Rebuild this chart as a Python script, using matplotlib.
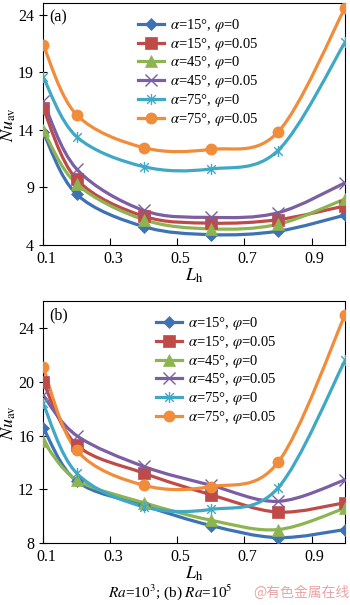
import matplotlib
matplotlib.use("Agg")
import matplotlib.pyplot as plt
from matplotlib.path import Path
from matplotlib.patches import PathPatch
from matplotlib.lines import Line2D
from matplotlib.transforms import ScaledTranslation
import numpy as np

plt.rcParams["font.family"] = ["Liberation Serif", "DejaVu Serif"]
plt.rcParams["mathtext.fontset"] = "stix"

lh = [0.1, 0.2, 0.4, 0.6, 0.8, 1.0]

labels = [r"$\alpha$=15°, $\varphi$=0", r"$\alpha$=15°, $\varphi$=0.05",
          r"$\alpha$=45°, $\varphi$=0", r"$\alpha$=45°, $\varphi$=0.05",
          r"$\alpha$=75°, $\varphi$=0", r"$\alpha$=75°, $\varphi$=0.05"]

# panel (a), Ra=10^3
nu_a_15_0 = [13.8, 8.4, 5.6, 4.9, 5.2, 6.6]
nu_a_15_05 = [15.9, 9.7, 6.5, 5.9, 6.2, 7.4]
nu_a_45_0 = [14.0, 9.3, 6.2, 5.4, 5.8, 8.0]
nu_a_45_05 = [16.5, 10.6, 7.0, 6.4, 6.8, 9.4]
nu_a_75_0 = [18.6, 13.4, 10.8, 10.6, 12.2, 21.6]
nu_a_75_05 = [21.4, 15.3, 12.45, 12.3, 13.8, 24.6]

# panel (b), Ra=10^5
nu_b_15_0 = [16.6, 12.6, 10.8, 9.3, 8.4, 9.0]
nu_b_15_05 = [20.0, 15.3, 13.2, 11.6, 10.3, 11.0]
nu_b_45_0 = [15.6, 12.7, 11.0, 9.7, 9.0, 10.6]
nu_b_45_05 = [19.0, 16.0, 13.7, 12.3, 11.1, 12.7]
nu_b_75_0 = [18.4, 13.2, 10.7, 10.5, 12.1, 21.6]
nu_b_75_05 = [21.1, 14.9, 12.3, 12.2, 14.0, 25.0]

# x with a vertical bar, like the spreadsheet "star" marker
star = Path([(-1, -1), (1, 1), (-1, 1), (1, -1), (0, -1.3), (0, 1.3)],
            [Path.MOVETO, Path.LINETO, Path.MOVETO, Path.LINETO, Path.MOVETO, Path.LINETO])

colors = ["#3d72b4", "#be4b48", "#8db451", "#7b5ea3", "#3fa8c5", "#f08c3a"]
markers = ["D", "s", "^", "x", star, "o"]
msizes = [6, 8, 8, 8, 8, 8]
mews = [0.5, 0.5, 0.5, 1.0, 1.0, 0.5]


def smooth_path(x, y):
    # Catmull-Rom style bezier segments through the points
    pts = np.column_stack([x, y])
    verts = [pts[0]]
    codes = [Path.MOVETO]
    n = len(pts)
    for i in range(n - 1):
        p0 = pts[i - 1] if i > 0 else pts[i]
        p1 = pts[i]
        p2 = pts[i + 1]
        p3 = pts[i + 2] if i + 2 < n else pts[i + 1]
        c1 = p1 + (p2 - p0) / 6.0
        c2 = p2 - (p3 - p1) / 6.0
        verts += [c1, c2, p2]
        codes += [Path.CURVE4] * 3
    return Path(verts, codes)


def draw(ax, series, ylim, yticks, tag, legend_x):
    for k, ys in enumerate(series):
        ax.add_patch(PathPatch(smooth_path(lh, ys), facecolor="none",
                               edgecolor=colors[k], lw=2.3, zorder=2 + k * 0.1))
        ax.plot(lh, ys, linestyle="None", marker=markers[k], color=colors[k],
                markersize=msizes[k], markeredgewidth=mews[k], zorder=3 + k * 0.1)
    ax.set_xlim(0.1, 1.0)
    ax.set_ylim(*ylim)
    ax.set_xticks([0.1, 0.3, 0.5, 0.7, 0.9])
    ax.set_xticklabels(["0.1", "0.3", "0.5", "0.7", "0.9"])
    ax.set_yticks(yticks)
    ax.tick_params(axis="x", direction="in", length=5, labelsize=11.5, pad=4)
    ax.tick_params(axis="y", direction="inout", length=6, labelsize=11.5, pad=3.5)
    shift = ScaledTranslation(3 / 100, 0, ax.figure.dpi_scale_trans)
    for lab in ax.get_xticklabels():
        lab.set_transform(lab.get_transform() + shift)
    ax.set_xlabel(r"$L_{\mathrm{h}}$", fontsize=13, labelpad=0)
    ax.set_ylabel(r"$Nu_{\mathrm{av}}$", fontsize=13, labelpad=0)
    for sp in ax.spines.values():
        sp.set_linewidth(0.8)
    ax.text(0.02, 0.975, tag, transform=ax.transAxes, fontsize=11.5, va="top", ha="left")
    handles = [Line2D([], [], color=colors[k], lw=2.3, marker=markers[k],
                      markersize=msizes[k], markeredgewidth=mews[k])
               for k in range(6)]
    ax.legend(handles, labels, loc="upper left", bbox_to_anchor=(legend_x, 0.985),
              frameon=False, fontsize=10.5, handlelength=1.8, handletextpad=0.4,
              labelspacing=0.12, borderpad=0.2)


fig = plt.figure(figsize=(3.5, 6.05), dpi=100)
ax1 = fig.add_axes([0.123, 0.595, 0.863, 0.40])
ax2 = fig.add_axes([0.123, 0.1025, 0.863, 0.3995])

draw(ax1, [nu_a_15_0, nu_a_15_05, nu_a_45_0, nu_a_45_05, nu_a_75_0, nu_a_75_05],
     (4, 25), [4, 9, 14, 19, 24], "(a)", 0.28)
draw(ax2, [nu_b_15_0, nu_b_15_05, nu_b_45_0, nu_b_45_05, nu_b_75_0, nu_b_75_05],
     (8, 26), [8, 12, 16, 20, 24], "(b)", 0.34)

fig.text(0.487, 0.021, r"$Ra$=10$^3$; (b) $Ra$=10$^5$", fontsize=11, ha="center", va="center")
fig.text(0.998, 0.021, "@有色金属在线", fontsize=10, ha="right", va="center",
         color="#eaa4a4", family=["Noto Sans CJK SC", "DejaVu Sans"])

fig.savefig("out.png", dpi=100)
